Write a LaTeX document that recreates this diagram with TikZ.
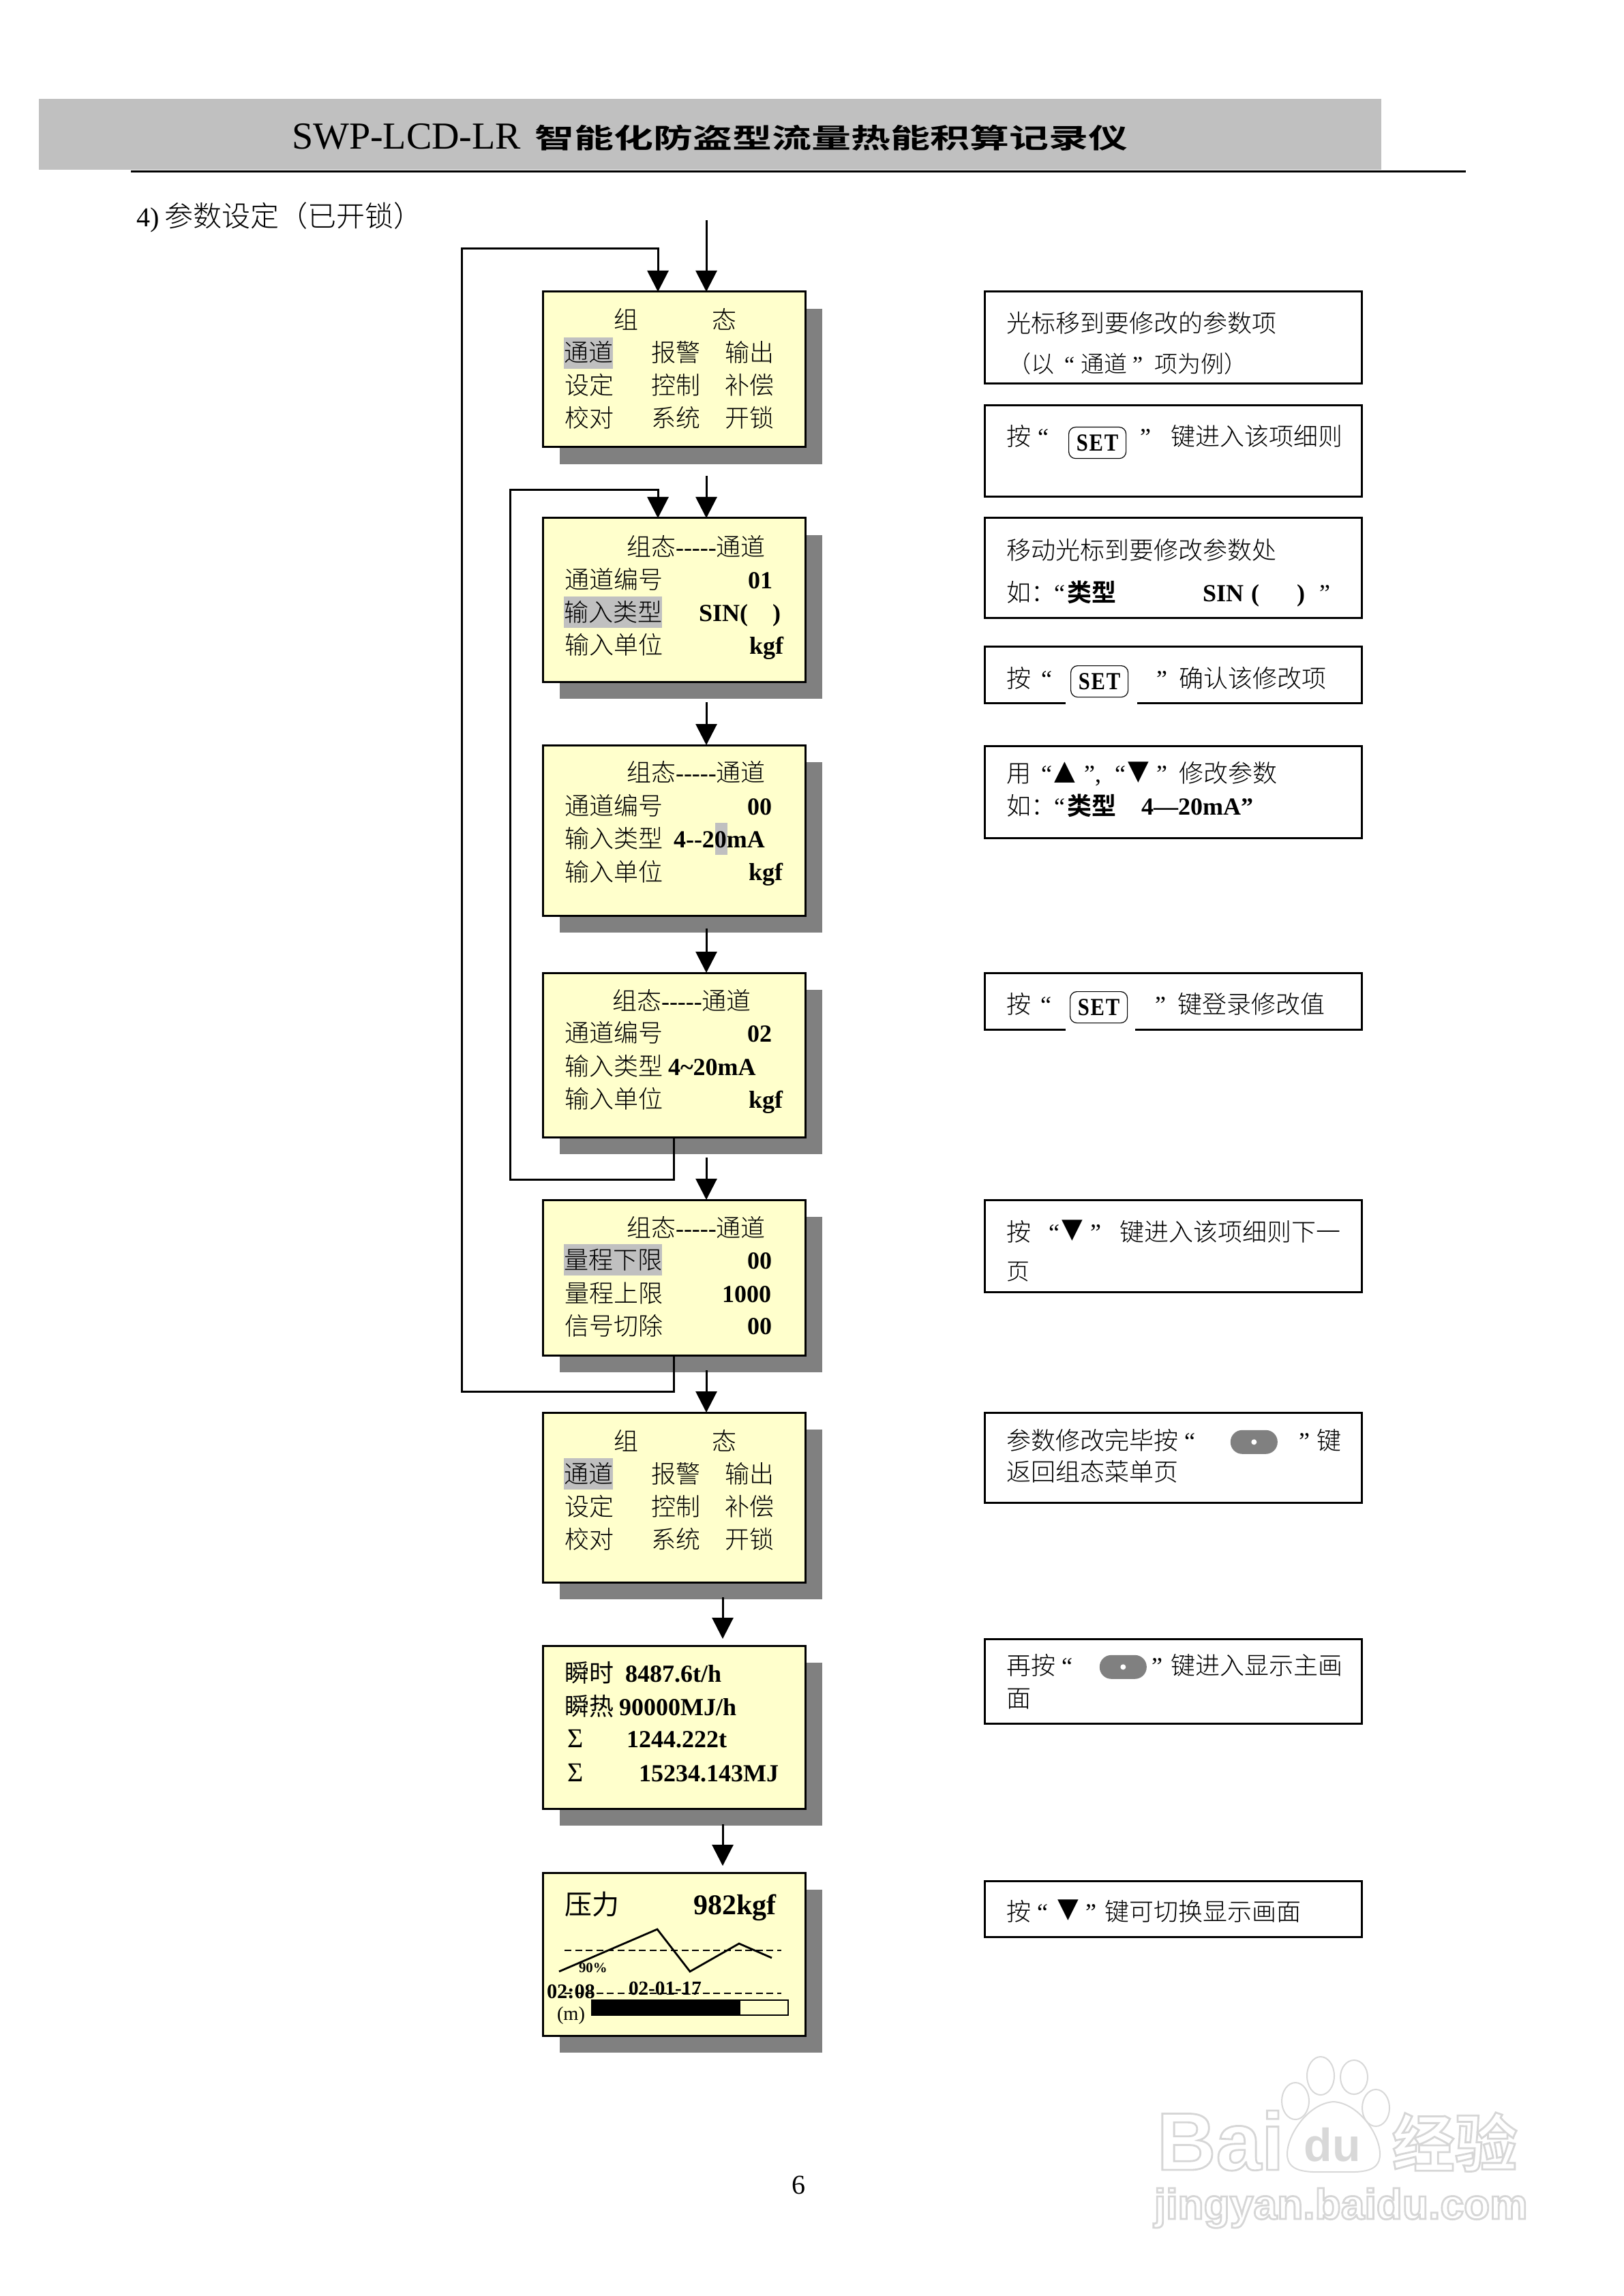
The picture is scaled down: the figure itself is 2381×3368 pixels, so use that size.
\documentclass[tikz,border=0pt]{standalone}
\usepackage{fontspec}
\usetikzlibrary{arrows.meta,shadows}
\setmainfont{Liberation Serif}
\newfontfamily\cjk{Noto Sans CJK SC}[UprightFont=* Light,BoldFont=* Bold]
\newfontfamily\cjkmid{Noto Sans CJK SC}
\newfontfamily\symb{DejaVu Sans}
\newfontfamily\wmfont{Liberation Sans}
\newcommand{\zh}[1]{{\cjk #1}}
\newcommand{\zhm}[1]{{\cjkmid #1}}
\newcommand{\fivedash}{-{}-{}-{}-{}-}
\newcommand{\ghost}[1]{\special{pdf:code 1 Tr 0.7 w 0.84 G}#1}
\newcommand{\keylabel}{\scalebox{0.85}[1]{\addfontfeature{LetterSpace=6}SET}}
\definecolor{lcdyellow}{HTML}{FFFFCC}
\definecolor{shadowgray}{HTML}{808080}
\definecolor{cursorgray}{HTML}{C0C0C0}
\definecolor{wmgray}{HTML}{D8D8D8}
\begin{document}
\begin{tikzpicture}[x=0.25pt, y=-0.25pt,
lcd/.style={rectangle, draw, line width=0.75pt, fill=lcdyellow, anchor=north west, inner sep=0pt, outer sep=0pt, minimum width=96.25pt, copy shadow={shadow xshift=6.25pt, shadow yshift=-6.25pt, fill=shadowgray, draw=none}},
notebox/.style={rectangle, draw, line width=0.75pt, anchor=north west, inner sep=0pt, outer sep=0pt, minimum width=138.25pt},
txt/.style={anchor=base west, inner sep=0pt, outer sep=0pt, font=\fontsize{9}{10}\selectfont},
val/.style={txt, font=\fontsize{9}{10}\selectfont\bfseries},
small/.style={txt, font=\fontsize{8.5}{9}\selectfont},
tri/.style={txt, font=\symb\fontsize{10}{10}\selectfont},
cursor/.style={txt, fill=cursorgray, text height=9pt, text depth=2.5pt},
setkey/.style={rectangle, draw, fill=white, line width=0.3pt, rounded corners=2.5pt, inner sep=0pt, font=\fontsize{9}{9}\selectfont\bfseries, minimum width=21pt, minimum height=11.5pt, anchor=north west},
okkey/.style={rectangle, fill=shadowgray, rounded corners=4.3pt, inner sep=0pt, minimum width=17.25pt, minimum height=8.75pt, anchor=north west},
okdot/.style={circle, fill=white, inner sep=0pt, minimum size=2pt},
flow/.style={line width=0.75pt, -{Triangle[length=7.75pt, width=7.75pt]}},
wmark/.style={anchor=base west, inner sep=0pt, font=\wmfont\bfseries\fontsize{#1}{#1}\selectfont}]
\useasboundingbox (0,0) rectangle (2381,3368);
\fill[cursorgray] (57,145) rectangle (2026,249);
\draw[line width=0.7pt] (192,251.5) -- (2150,251.5);
\node[txt, font=\fontsize{14}{15}\selectfont] (titlea) at (428,219) {SWP-LCD-LR};
\node[txt, font=\fontsize{10}{11}\selectfont\bfseries] (titleb) at (784,218) {\scalebox{1.45}[1]{\zh{智能化防盗型流量热能积算记录仪}}};
\node[txt, font=\fontsize{10}{11}\selectfont] (headnum) at (200,333) {4)};
\node[txt, font=\fontsize{10.5}{11}\selectfont] (heading) at (241,333) {\zh{参数设定（已开锁）}};
\node[txt, font=\fontsize{10}{11}\selectfont, anchor=base] (pagenum) at (1171,3218) {6};
\foreach \nm/\ty/\boxh in {menua/428/57, para/760/60, parb/1093/62.5, parc/1427/60.25, pard/1760/57, menub/2072/62.25, flowpage/2414/59.75, chartpage/2747/59.75}
\node[lcd, minimum height=\boxh pt] (\nm) at (796,\ty) {};
\foreach \nm/\ty/\boxh in {a/428/33.75, b/595/33.5, c/760/36.5, d/948/20.75, e/1094/33.75, f/1427/20.75, g/1760/33.75, h/2072/33, i/2404/31, j/2759/20.5}
\node[notebox, minimum height=\boxh pt] (note\nm) at (1444,\ty) {};
\foreach \m/\dy in {a/0, b/1644} {
\node[txt] (menu\m t) at (900,{483+\dy}) {\zh{组}};
\node[txt] (menu\m u) at (1044,{483+\dy}) {\zh{态}};
\node[cursor] (menu\m a) at (827,{531+\dy}) {\zh{通道}};
\node[txt] (menu\m b) at (955,{531+\dy}) {\zh{报警}};
\node[txt] (menu\m c) at (1063,{531+\dy}) {\zh{输出}};
\node[txt] (menu\m d) at (828,{579+\dy}) {\zh{设定}};
\node[txt] (menu\m e) at (955,{579+\dy}) {\zh{控制}};
\node[txt] (menu\m f) at (1063,{579+\dy}) {\zh{补偿}};
\node[txt] (menu\m g) at (828,{627+\dy}) {\zh{校对}};
\node[txt] (menu\m h) at (955,{627+\dy}) {\zh{系统}};
\node[txt] (menu\m i) at (1063,{627+\dy}) {\zh{开锁}};
}
\node[txt] (parat) at (919,816) {\zh{组态}\fivedash\zh{通道}};
\node[txt] (paraa) at (828,863) {\zh{通道编号}};
\node[val] (parav) at (1097,863) {01};
\node[cursor] (parab) at (827,911) {\zh{输入类型}};
\node[val] (paraw) at (1025,911) {SIN(\hspace{9pt})};
\node[txt] (parac) at (828,960) {\zh{输入单位}};
\node[val] (parax) at (1099,960) {kgf};
\fill[cursorgray] (1049,1207) rectangle (1067,1254);
\node[txt] (parbt) at (919,1146) {\zh{组态}\fivedash\zh{通道}};
\node[txt] (parba) at (828,1195) {\zh{通道编号}};
\node[val] (parbv) at (1096,1195) {00};
\node[txt] (parbb) at (828,1243) {\zh{输入类型}};
\node[val] (parbw) at (988,1243) {4-{}-20mA};
\node[txt] (parbc) at (828,1292) {\zh{输入单位}};
\node[val] (parbx) at (1098,1291) {kgf};
\node[txt] (parct) at (898,1481) {\zh{组态}\fivedash\zh{通道}};
\node[txt] (parca) at (828,1528) {\zh{通道编号}};
\node[val] (parcv) at (1096,1528) {02};
\node[txt] (parcb) at (828,1577) {\zh{输入类型}};
\node[val] (parcw) at (980,1577) {4\textasciitilde20mA};
\node[txt] (parcc) at (828,1625) {\zh{输入单位}};
\node[val] (parcx) at (1098,1625) {kgf};
\node[txt] (pardt) at (919,1814) {\zh{组态}\fivedash\zh{通道}};
\node[cursor] (parda) at (827,1861) {\zh{量程下限}};
\node[val] (pardv) at (1096,1861) {00};
\node[txt] (pardb) at (828,1910) {\zh{量程上限}};
\node[val] (pardw) at (1059,1910) {1000};
\node[txt] (pardc) at (828,1958) {\zh{信号切除}};
\node[val] (pardx) at (1096,1957) {00};
\node[txt] (flowa) at (828,2467) {\zhm{瞬时}};
\node[val] (flowb) at (917,2467) {8487.6t/h};
\node[txt] (flowc) at (828,2516) {\zhm{瞬热}};
\node[val] (flowd) at (908,2516) {90000MJ/h};
\node[txt, font=\fontsize{10}{11}\selectfont] (flowe) at (832,2563) {Σ};
\node[val] (flowf) at (919,2563) {1244.222t};
\node[txt, font=\fontsize{10}{11}\selectfont] (flowg) at (832,2613) {Σ};
\node[val] (flowh) at (937,2613) {15234.143MJ};
\node[txt, font=\fontsize{10}{11}\selectfont] (charta) at (828,2808) {\zhm{压力}};
\node[val, font=\fontsize{10.5}{11}\selectfont\bfseries] (chartb) at (1017,2808) {982kgf};
\draw[line width=0.6pt, dash pattern=on 2.5pt off 1.4pt] (828,2861) -- (1146,2861);
\draw[line width=0.6pt, dash pattern=on 2.5pt off 1.4pt] (828,2924) -- (1146,2924);
\draw[line width=0.7pt] (820,2892) -- (964,2830) -- (1012,2892) -- (1084,2851) -- (1132,2872);
\node[txt, font=\fontsize{5.2}{6}\selectfont\bfseries] (chartc) at (849,2893) {90\%};
\node[val, font=\fontsize{7.6}{8}\selectfont\bfseries] (chartd) at (802,2931) {02:08};
\node[val, font=\fontsize{7.3}{8}\selectfont\bfseries] (charte) at (922,2926) {02-01-17};
\node[txt, font=\fontsize{7.1}{8}\selectfont] (chartf) at (817,2963) {(m)};
\draw[line width=0.6pt, fill=lcdyellow] (868,2934) rectangle (1156,2956);
\fill (868,2934) rectangle (1086,2956);
\node[txt] (noteat) at (1476,488) {\zh{光标移到要修改的参数项}};
\node[small] (noteau) at (1478,547) {\zh{（以}};
\node[small] (noteav) at (1561,547) {“};
\node[small] (noteaw) at (1585,547) {\zh{通道}};
\node[small] (noteax) at (1661,547) {”};
\node[small] (noteay) at (1693,547) {\zh{项为例）}};
\node[txt] (notebt) at (1476,654) {\zh{按}};
\node[txt] (notebu) at (1522,654) {“};
\node[setkey] (setb) at (1567,626) {\keylabel};
\node[txt] (notebv) at (1672,654) {”};
\node[txt] (notebw) at (1717,654) {\zh{键进入该项细则}};
\node[txt] (notect) at (1476,821) {\zh{移动光标到要修改参数处}};
\node[txt] (notecu) at (1476,883) {\zh{如：}};
\node[txt] (notecv) at (1546,883) {“};
\node[val] (notecw) at (1565,883) {\zh{类型}};
\node[val] (notecx) at (1764,883) {SIN};
\node[val] (notecy) at (1835,883) {(};
\node[val] (notecz) at (1902,883) {)};
\node[txt] (notecq) at (1935,883) {”};
\fill[white] (1563,1026) rectangle (1668,1035);
\node[txt] (notedt) at (1476,1008) {\zh{按}};
\node[txt] (notedu) at (1527,1008) {“};
\node[setkey] (setd) at (1570,976) {\keylabel};
\node[txt] (notedv) at (1696,1008) {”};
\node[txt] (notedw) at (1729,1008) {\zh{确认该修改项}};
\node[txt] (noteet) at (1476,1147) {\zh{用}};
\node[txt] (noteeu) at (1527,1147) {“};
\node[tri] (noteev) at (1546,1143) {▲};
\node[txt] (noteew) at (1590,1147) {”,};
\node[txt] (noteex) at (1635,1147) {“};
\node[tri] (noteey) at (1654,1143) {▼};
\node[txt] (noteez) at (1696,1147) {”};
\node[txt] (noteeq) at (1729,1147) {\zh{修改参数}};
\node[txt] (noteea) at (1476,1195) {\zh{如：}};
\node[txt] (noteeb) at (1546,1195) {“};
\node[val] (noteec) at (1565,1195) {\zh{类型}};
\node[val] (noteed) at (1674,1195) {4—20mA”};
\fill[white] (1563,1505) rectangle (1665,1514);
\node[txt] (noteft) at (1476,1486) {\zh{按}};
\node[txt] (notefu) at (1526,1486) {“};
\node[setkey] (setf) at (1569,1454) {\keylabel};
\node[txt] (notefv) at (1694,1486) {”};
\node[txt] (notefw) at (1727,1486) {\zh{键登录修改值}};
\node[txt] (notegt) at (1476,1820) {\zh{按}};
\node[txt] (notegu) at (1538,1820) {“};
\node[tri] (notegv) at (1557,1815) {▼};
\node[txt] (notegw) at (1599,1820) {”};
\node[txt] (notegx) at (1642,1820) {\zh{键进入该项细则下一}};
\node[small] (notegy) at (1476,1877) {\zh{页}};
\node[txt] (noteht) at (1476,2126) {\zh{参数修改完毕按}};
\node[txt] (notehu) at (1737,2126) {“};
\node[okkey] (okh) at (1804,2097) {};
\node[okdot] (okhdot) at (okh) {};
\node[txt] (notehv) at (1905,2126) {”};
\node[txt] (notehw) at (1931,2126) {\zh{键}};
\node[txt] (notehx) at (1476,2172) {\zh{返回组态菜单页}};
\node[txt] (noteit) at (1476,2456) {\zh{再按}};
\node[txt] (noteiu) at (1557,2456) {“};
\node[okkey] (oki) at (1612,2427) {};
\node[okdot] (okidot) at (oki) {};
\node[txt] (noteiv) at (1689,2456) {”};
\node[txt] (noteiw) at (1717,2456) {\zh{键进入显示主画}};
\node[txt] (noteix) at (1476,2504) {\zh{面}};
\node[txt] (notejt) at (1476,2817) {\zh{按}};
\node[txt] (noteju) at (1521,2817) {“};
\node[tri] (notejv) at (1551,2812) {▼};
\node[txt] (notejw) at (1592,2817) {”};
\node[txt] (notejx) at (1620,2817) {\zh{键可切换显示画面}};
\coordinate (feeda) at (1036,323);
\coordinate (feedb) at (1036,698);
\coordinate (feedc) at (1036,1030);
\coordinate (feedd) at (1036,1362);
\coordinate (feede) at (1036,1698);
\coordinate (feedf) at (1036,2010);
\coordinate (feedg) at (1060,2343);
\coordinate (feedh) at (1060,2676);
\coordinate (backlowa) at (677,2041);
\coordinate (backtopa) at (965,365);
\coordinate (backlowb) at (748,1730);
\coordinate (backtopb) at (965,719);
\draw[flow] (feeda) -- (feeda |- menua.north);
\draw[flow] (feedb) -- (feedb |- para.north);
\draw[flow] (feedc) -- (feedc |- parb.north);
\draw[flow] (feedd) -- (feedd |- parc.north);
\draw[flow] (feede) -- (feede |- pard.north);
\draw[flow] (feedf) -- (feedf |- menub.north);
\draw[flow, shorten >=2.5pt] (feedg) -- (feedg |- flowpage.north);
\draw[flow, shorten >=2.5pt] (feedh) -- (feedh |- chartpage.north);
\draw[flow] (pard.south) |- (backlowa) |- (backtopa) -- (backtopa |- menua.north);
\draw[flow] (parc.south) |- (backlowb) |- (backtopb) -- (backtopb |- para.north);
\node[wmark=30] (wmbai) at (1696,3183) {\ghost{Bai}};
\node[wmark=15.6] (wmsite) at (1692,3255) {\ghost{jingyan.baidu.com}};
\node[wmark=23] (wmjing) at (2041,3178) {\ghost{\zh{经验}}};
\draw[wmgray, fill=white, line width=0.5pt] (1937,3045) ellipse (20 and 28);
\draw[wmgray, fill=white, line width=0.5pt] (1986,3047) ellipse (20 and 25);
\draw[wmgray, fill=white, line width=0.5pt] (1900,3082) ellipse (20 and 27);
\draw[wmgray, fill=white, line width=0.5pt] (2018,3092) ellipse (20 and 27);
\draw[wmgray, fill=white, line width=0.5pt] (1956,3083) .. controls (1920,3085) and (1888,3130) .. (1888,3160) .. controls (1888,3190) and (1925,3186) .. (1956,3186) .. controls (1990,3186) and (2024,3190) .. (2024,3160) .. controls (2024,3130) and (1992,3085) .. (1956,3083);
\node[wmark=17, text=wmgray] (wmdu) at (1912,3170) {du};
\end{tikzpicture}
\end{document}
